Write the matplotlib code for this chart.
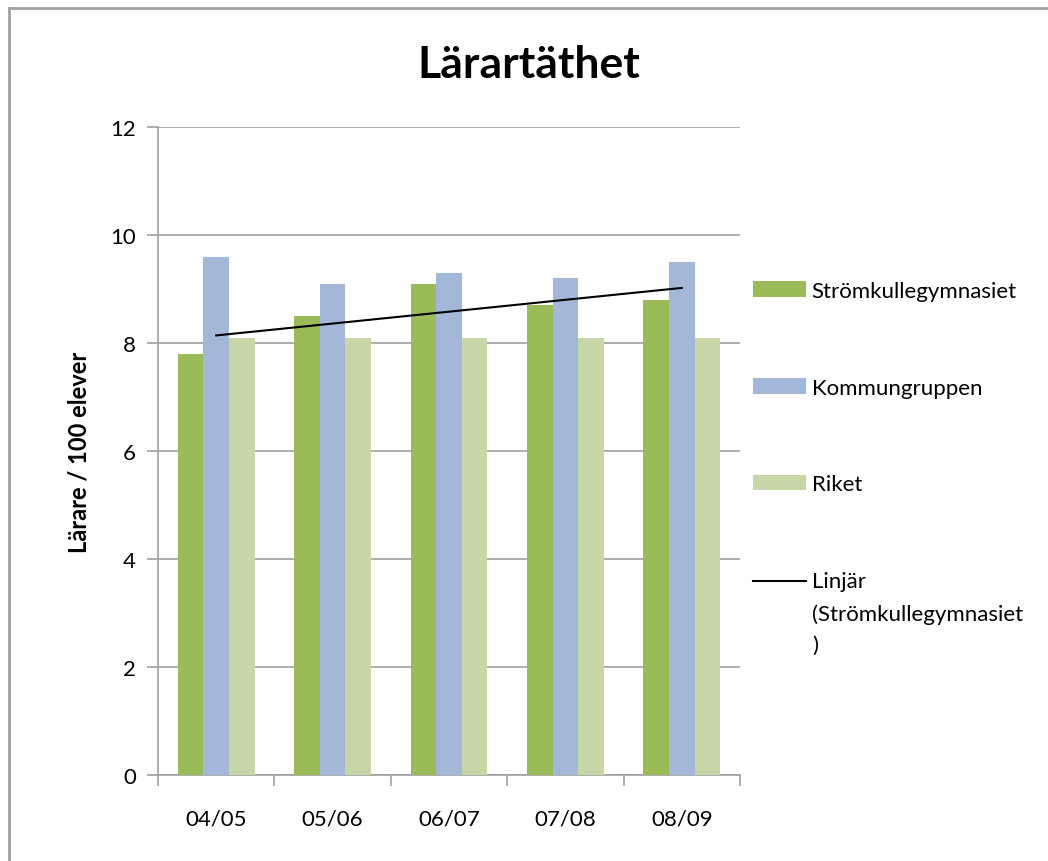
import numpy as np
import matplotlib
matplotlib.use("Agg")
import matplotlib.pyplot as plt
from matplotlib.lines import Line2D
from matplotlib.legend_handler import HandlerLine2D

plt.rcParams["font.family"] = ["Lato", "DejaVu Sans"]

years = ["04/05", "05/06", "06/07", "07/08", "08/09"]
stromkulle = [7.8, 8.5, 9.1, 8.7, 8.8]
kommungruppen = [9.6, 9.1, 9.3, 9.2, 9.5]
riket = [8.1, 8.1, 8.1, 8.1, 8.1]

GRAY = "#a0a0a0"
FS = 16
LSP = 1.73  # line spacing of the wrapped trend label


class TopLineHandler(HandlerLine2D):
    # put the line handle next to the first text line of a 3-line label
    def create_artists(self, legend, orig_handle, xdescent, ydescent,
                       width, height, fontsize, trans):
        arts = super().create_artists(legend, orig_handle, xdescent, ydescent,
                                      width, height, fontsize, trans)
        for a in arts:
            a.set_ydata(np.asarray(a.get_ydata()) + fontsize * 1.44)
        return arts


fig = plt.figure(figsize=(10.48, 8.62), dpi=100)
ax = fig.add_axes([158 / 1048, 1 - 776 / 862, (740 - 158) / 1048, (776 - 128) / 862])

x = np.arange(len(years))
w = 0.22
b1 = ax.bar(x - w, stromkulle, w, color="#9bbb59", label="Strömkullegymnasiet", zorder=3)
b2 = ax.bar(x, kommungruppen, w, color="#a3b8d9", label="Kommungruppen", zorder=3)
b3 = ax.bar(x + w, riket, w, color="#c6d6a6", label="Riket", zorder=3)

# linear trend of Strömkullegymnasiet
k, m = np.polyfit(x, stromkulle, 1)
tl, = ax.plot(x, k * x + m, color="black", lw=1.5, zorder=4,
              label="Linjär\n(Strömkullegymnasiet\n)")

ax.set_xlim(-0.5, len(years) - 0.5)
ax.set_ylim(0, 12)
ax.set_yticks(range(0, 13, 2))
ax.set_xticks(x)
ax.set_xticklabels(years)
ax.set_xticks(np.arange(-0.5, len(years)), minor=True)
ax.tick_params(axis="x", which="major", length=0, pad=24, labelsize=FS)
ax.tick_params(axis="x", which="minor", length=8, width=1.2, color=GRAY, direction="out")
ax.tick_params(axis="y", length=8, width=1.2, color=GRAY, labelsize=FS, pad=8)
ax.grid(axis="y", color=GRAY, lw=1.2, zorder=0)
for s in ["top", "right"]:
    ax.spines[s].set_visible(False)
for s in ["left", "bottom"]:
    ax.spines[s].set_color(GRAY)
    ax.spines[s].set_linewidth(1.2)

ax.set_ylabel("Lärare / 100 elever", fontsize=17, fontweight="bold", labelpad=14)
fig.text(529 / 1048, 1 - 65 / 862, "Lärartäthet", fontsize=32, fontweight="bold",
         ha="center", va="center")

leg = ax.legend(handles=[b1, b2, b3, tl], loc="upper left",
                bbox_to_anchor=(744 / 1048, 1 - 273 / 862),
                bbox_transform=fig.transFigure, frameon=False, fontsize=FS,
                handlelength=2.4, handletextpad=0.25, labelspacing=3.45,
                borderaxespad=0, handler_map={tl: TopLineHandler()})
leg.get_texts()[3].set_linespacing(LSP)

# outer chart frame
fig.add_artist(Line2D([9 / 1048, 1], [1 - 9 / 862] * 2, color=GRAY, lw=2))
fig.add_artist(Line2D([9 / 1048] * 2, [0, 1 - 9 / 862], color=GRAY, lw=2))

fig.savefig("out.png", dpi=100)
plt.close()
